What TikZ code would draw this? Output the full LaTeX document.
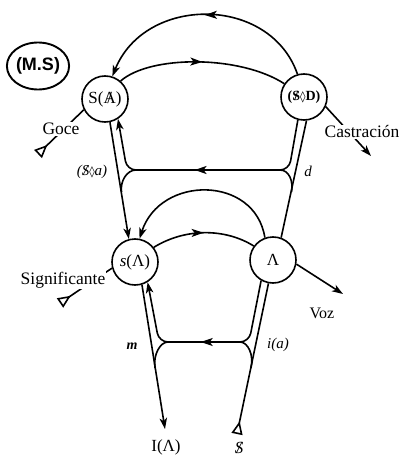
\documentclass[tikz,border=0pt]{standalone}
\usepackage{fontspec}
\setmainfont{Liberation Serif}
\newfontfamily\msfont{Liberation Sans}
\newfontfamily\djv{DejaVu Sans}
\usetikzlibrary{arrows.meta,decorations.markings,shapes.geometric}
\pgfdeclarelayer{back}
\pgfsetlayers{back,main}
\newcommand\slA{\ooalign{A\cr\hidewidth/\hidewidth\cr}}
\newcommand\slS{\ooalign{S\cr\hidewidth/\hidewidth\cr}}
\newcommand\lz{{\djv\fontsize{11}{11}\selectfont ◊}}
\begin{document}
\begin{tikzpicture}[x=1pt,y=-1pt,line width=1.6pt,
  >={Stealth[length=11pt,width=7.5pt,inset=3pt]},
  midarrow/.style={postaction={decorate},decoration={markings,
     mark=at position #1 with {\arrow{Stealth[length=12pt,width=8pt,inset=3pt]}}}},
  midarrow/.default=0.5,
  lacan/.style={circle,draw,line width=1.6pt,minimum size=46pt,inner sep=0pt,fill=white,
     font=\fontsize{17}{17}\selectfont},
  lbl/.style={inner sep=1pt,font=\fontsize{17.5}{18}\selectfont},
  lblw/.style={lbl,fill=white},
  ilbl/.style={inner sep=1pt,font=\fontsize{15}{16}\selectfont\itshape},
  tri/.style={-{Triangle[open,reversed,length=13pt,width=11pt,line width=1.6pt]}}]
\useasboundingbox (0,0) rectangle (401,457);

% main nodes
\node[lacan] (SA) at (105,99) {S(\slA)};
\node[lacan,font=\fontsize{14}{14}\selectfont\bfseries] (SD) at (304,97) {(\slS\lz D)};
\node[lacan] (sA) at (135,262) {\textit{s}(Λ)};
\node[lacan,font=\fontsize{17}{17}\selectfont] (A) at (273,260) {Λ};

% labels
\node[draw,ellipse,line width=1.9pt,minimum width=60pt,minimum height=47pt,inner sep=0pt,
      font=\msfont\bfseries\fontsize{18}{18}\selectfont] (MS) at (38,66) {(M.S)};
\node[lblw] (goce) at (61,129) {Goce};
\node[lblw] (castr) at (362,132) {Castración};
\node[lblw] (signif) at (63,280) {Significante};
\node[lbl,font=\fontsize{16}{16}\selectfont] (voz) at (322,313) {Voz};
\node[ilbl] (sda) at (92,172) {(\slS\lz a)};
\node[ilbl] (dd) at (308,171) {d};
\node[ilbl,font=\fontsize{14}{14}\selectfont\itshape\bfseries] (mm) at (132,346) {m};
\node[ilbl] (ia) at (278,345) {i(a)};
\node[lbl,font=\fontsize{17}{17}\selectfont] (IA) at (166,447) {I(Λ)};
\node[lbl,font=\fontsize{17}{17}\selectfont\itshape] (bS) at (239,448) {\slS};

\coordinate (goceEnd) at (38,154);
\coordinate (signifEnd) at (60,303);
\coordinate (bSEnd) at (237,434);
\coordinate (IAtip) at (165,429);
\coordinate (castrTip) at (371,156);
\coordinate (vozTip) at (343,294);

\begin{pgfonlayer}{back}
\begin{scope}[line width=1.6pt]
% upper arcs
\draw[->,midarrow] (SD.106) .. controls (270,-5) and (145,-5) .. (SA.72);
\draw[midarrow] (SA.49) .. controls (150,55) and (240,55) .. (SD.146);
% upper verticals
\draw[->] (SA.-78) -- (sA.105);
\draw (SD.-84) -- (A.70);
% upper bar
\draw[->,midarrow=0.55,rounded corners=9pt] (SD.-105) -- (289,170) -- (127,170) -- (SA.-57);
\draw (136,170) .. controls (127,170) and (120,181) .. (121.5,192);
\draw (280,170) .. controls (289,170) and (293.5,181) .. (291.5,192);
% lower arcs
\draw[->] (A.110) .. controls (255,175) and (160,175) .. (sA.79);
\draw[midarrow] (sA.38) .. controls (185,228) and (225,228) .. (A.144);
% lower verticals
\draw[->] (sA.-73) -- (IAtip);
\draw[tri] (A.-101) -- (bSEnd);
% lower bar
\draw[->,midarrow=0.52,rounded corners=9pt] (A.-120) -- (249,342) -- (159,342) -- (sA.-58);
\draw (168,342) .. controls (160,342) and (153,355) .. (155,368);
\draw (240,342) .. controls (248,342) and (254,355) .. (251,368);
% side vectors
\draw[tri] (SA.207) -- (goceEnd);
\draw[->] (SD.-24) -- (castrTip);
\draw[tri] (sA.195) -- (signifEnd);
\draw[->] (A.-10) -- (vozTip);
\end{scope}
\end{pgfonlayer}
\end{tikzpicture}
\end{document}
